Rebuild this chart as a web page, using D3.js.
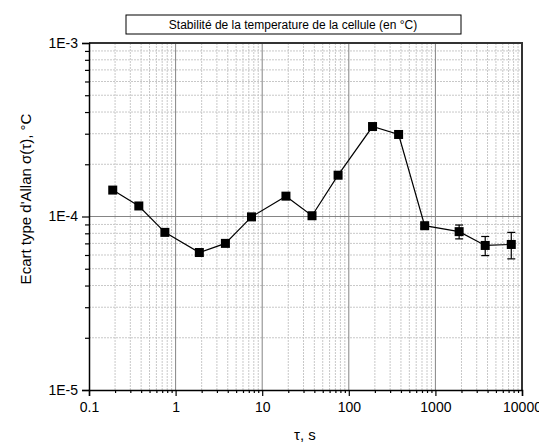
<!DOCTYPE html>
<html>
<head>
<meta charset="utf-8">
<script src="https://cdn.jsdelivr.net/npm/d3@7"></script>
<style>
  body { margin: 0; background: #fff; }
  svg { font-family: "Liberation Sans", Arial, sans-serif; }
</style>
</head>
<body>
<svg width="539" height="443"></svg>
<script>
// data
const tau = [0.188, 0.376, 0.752, 1.88, 3.76, 7.52, 18.8, 37.6, 75.2, 188, 376, 752, 1880, 3760, 7520];
const sigma = [1.42e-4, 1.15e-4, 8.1e-5, 6.2e-5, 7.0e-5, 9.95e-5, 1.31e-4, 1.01e-4, 1.73e-4, 3.3e-4, 2.97e-4, 8.85e-5, 8.18e-5, 6.81e-5, 6.9e-5];
const sigmaErr = [0, 0, 0, 0, 0, 0, 0, 0, 0, 0, 0, 3e-6, 7.5e-6, 8.6e-6, 1.2e-5];
const xTicks = [0.1, 1, 10, 100, 1000, 10000];
const xTickLabels = ["0.1", "1", "10", "100", "1000", "10000"];
const yTicks = [1e-5, 1e-4, 1e-3];
const yTickLabels = ["1E-5", "1E-4", "1E-3"];
const title = "Stabilité de la temperature de la cellule (en °C)";

const svg = d3.select("svg");
const pLeft = 89, pRight = 522, pTop = 43, pBottom = 390;

const x = d3.scaleLog().domain([0.1, 10000]).range([pLeft, pRight]);
const y = d3.scaleLog().domain([1e-5, 1e-3]).range([pBottom, pTop]);

// minor values 2..9 per decade
function minors(lo, hi){
  let out = [];
  for (let p = Math.log10(lo); p < Math.log10(hi); p++) {
    for (let k = 2; k <= 9; k++) out.push(k * Math.pow(10, p));
  }
  return out;
}
const xMinor = minors(0.1, 10000), yMinor = minors(1e-5, 1e-3);

// grid
let grid = svg.append("g");
grid.selectAll("line.xm").data(xMinor).enter().append("line")
  .attr("x1", d => x(d)).attr("x2", d => x(d)).attr("y1", pTop).attr("y2", pBottom)
  .attr("stroke", "#c8c8c8").attr("stroke-dasharray", "2,1").attr("stroke-width", 1);
grid.selectAll("line.ym").data(yMinor).enter().append("line")
  .attr("y1", d => y(d)).attr("y2", d => y(d)).attr("x1", pLeft).attr("x2", pRight)
  .attr("stroke", "#c8c8c8").attr("stroke-dasharray", "2,1").attr("stroke-width", 1);
grid.selectAll("line.xM").data(xTicks.slice(1, -1)).enter().append("line")
  .attr("x1", d => x(d)).attr("x2", d => x(d)).attr("y1", pTop).attr("y2", pBottom)
  .attr("stroke", "#858585").attr("stroke-width", 1);
grid.selectAll("line.yM").data(yTicks.slice(1, -1)).enter().append("line")
  .attr("y1", d => y(d)).attr("y2", d => y(d)).attr("x1", pLeft).attr("x2", pRight)
  .attr("stroke", "#858585").attr("stroke-width", 1);

// top & right frame
svg.append("path")
  .attr("d", `M${pLeft},${pTop}H${pRight}V${pBottom}`)
  .attr("fill", "none").attr("stroke", "#333").attr("stroke-width", 2);

// axes
const xAxis = svg.append("g").attr("transform", `translate(0,${pBottom})`)
  .call(d3.axisBottom(x).tickValues(xTicks).tickSize(6).tickPadding(6)
    .tickFormat((d, i) => xTickLabels[i]));
svg.append("g").attr("transform", `translate(0,${pBottom})`)
  .call(d3.axisBottom(x).tickValues(xMinor).tickSize(3).tickFormat(""))
  .select(".domain").remove();
const yAxis = svg.append("g").attr("transform", `translate(${pLeft},0)`)
  .call(d3.axisLeft(y).tickValues(yTicks).tickSize(7).tickPadding(4)
    .tickFormat((d, i) => yTickLabels[i]));
svg.append("g").attr("transform", `translate(${pLeft},0)`)
  .call(d3.axisLeft(y).tickValues(yMinor).tickSize(4).tickFormat(""))
  .select(".domain").remove();

svg.selectAll(".tick line").attr("stroke", "#000").attr("stroke-width", 1.2);
svg.selectAll(".domain").attr("stroke", "#000").attr("stroke-width", 1.5);
xAxis.selectAll("text").attr("font-size", 14).attr("fill", "#000")
  .attr("font-family", "Liberation Sans, Arial, sans-serif");
yAxis.selectAll("text").attr("font-size", 14).attr("fill", "#000")
  .attr("font-family", "Liberation Sans, Arial, sans-serif");

// axis titles
svg.append("text").attr("x", 305).attr("y", 440).attr("text-anchor", "middle")
  .attr("font-size", 15).text("τ, s");
svg.append("text").attr("transform", "translate(31,199) rotate(-90)")
  .attr("text-anchor", "middle").attr("font-size", 15)
  .text("Ecart type d'Allan σ(τ), °C");

// title box
svg.append("rect").attr("x", 126).attr("y", 15).attr("width", 335).attr("height", 19)
  .attr("fill", "#fff").attr("stroke", "#000").attr("stroke-width", 1);
svg.append("text").attr("x", 293).attr("y", 29).attr("text-anchor", "middle")
  .attr("font-size", 12).text(title);

// series
const pts = tau.map((t, i) => ({t: t, s: sigma[i], e: sigmaErr[i]}));
svg.append("path").datum(pts)
  .attr("d", d3.line().x(d => x(d.t)).y(d => y(d.s)))
  .attr("fill", "none").attr("stroke", "#000").attr("stroke-width", 1.2);

const eb = svg.append("g").selectAll("g").data(pts.filter(d => d.e > 0)).enter().append("g");
eb.append("line").attr("x1", d => x(d.t)).attr("x2", d => x(d.t))
  .attr("y1", d => y(d.s + d.e)).attr("y2", d => y(d.s - d.e))
  .attr("stroke", "#000").attr("stroke-width", 1.2);
eb.append("line").attr("x1", d => x(d.t) - 4).attr("x2", d => x(d.t) + 4)
  .attr("y1", d => y(d.s + d.e)).attr("y2", d => y(d.s + d.e))
  .attr("stroke", "#000").attr("stroke-width", 1.2);
eb.append("line").attr("x1", d => x(d.t) - 4).attr("x2", d => x(d.t) + 4)
  .attr("y1", d => y(d.s - d.e)).attr("y2", d => y(d.s - d.e))
  .attr("stroke", "#000").attr("stroke-width", 1.2);

svg.append("g").selectAll("rect").data(pts).enter().append("rect")
  .attr("x", d => x(d.t) - 4.5).attr("y", d => y(d.s) - 4.5)
  .attr("width", 9).attr("height", 9).attr("fill", "#000");
</script>
</body>
</html>
